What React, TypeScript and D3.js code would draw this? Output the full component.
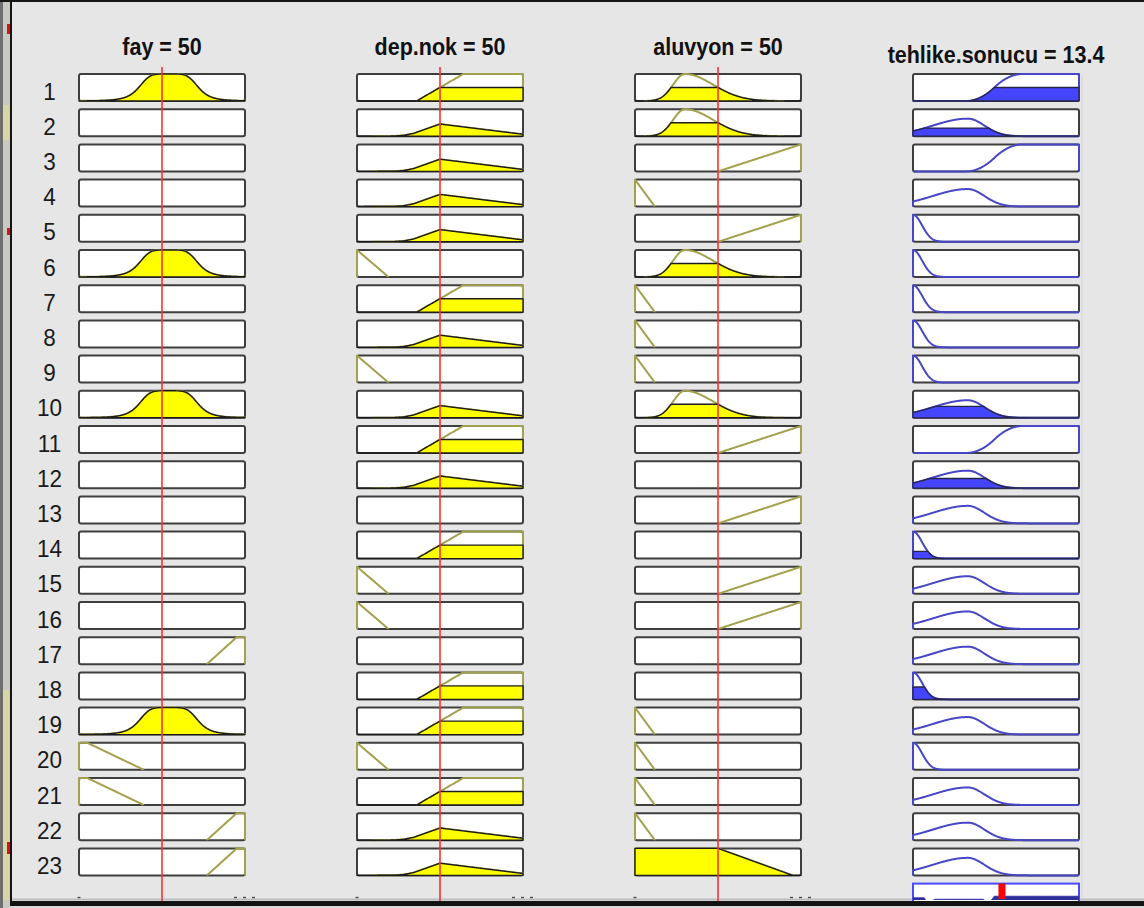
import React from "react";
import * as d3 from "d3";

type MF = { kind: string; p: number[] };

// ---- fuzzy variables ----
const inputNames = ["fay", "dep.nok", "aluvyon"];
const inputValues = [50, 50, 50];
const inputDomain: [number, number] = [0, 100];
const outputName = "tehlike.sonucu";
const outputValue = 13.4;
const outputDomain: [number, number] = [0, 25];

// membership functions, in variable units
const fayMFs: MF[] = [
  { kind: "trap", p: [-1, 0, 5, 39] },
  { kind: "gbell", p: [18, 2.5, 54] },
  { kind: "trap", p: [77, 95, 100, 101] },
];
const depMFs: MF[] = [
  { kind: "trap", p: [-1, 0, 0, 19] },
  { kind: "pwl", p: [0, 0, 22, 0.005, 28, 0.03, 34, 0.1, 50, 0.45, 100, 0.07] },
  { kind: "trap", p: [36, 64, 100, 101] },
];
const aluMFs: MF[] = [
  { kind: "trap", p: [-1, 0, 0, 12] },
  { kind: "gauss2", p: [7, 30, 17, 1] },
  { kind: "trap", p: [50, 100, 100, 101] },
  { kind: "trap", p: [-1, 0, 50, 95] },
];
const outMFs: MF[] = [
  { kind: "gauss2", p: [1, 0, 1.375, 1] },
  { kind: "gauss2", p: [5.25, 8.25, 2.5, 0.65] },
  { kind: "smf", p: [8, 16.5] },
];

// rule base: membership function number per rule (0 = term not used)
const fayRule = [2, 0, 0, 0, 0, 2, 0, 0, 0, 2, 0, 0, 0, 0, 0, 0, 3, 0, 2, 1, 1, 3, 3];
const depRule = [3, 2, 2, 2, 2, 1, 3, 2, 1, 2, 3, 2, 0, 3, 1, 1, 0, 3, 3, 1, 3, 2, 2];
const aluRule = [2, 2, 3, 1, 3, 2, 1, 1, 1, 2, 3, 0, 3, 0, 3, 3, 0, 0, 1, 1, 1, 1, 4];
const outRule = [3, 2, 3, 2, 1, 1, 1, 1, 1, 2, 3, 2, 2, 1, 2, 2, 2, 1, 2, 1, 2, 2, 2];
const ruleStrength = [0.5, 0.3, 0, 0, 0, 0, 0, 0, 0, 0.42, 0, 0.36, 0, 0.27, 0, 0, 0, 0.46, 0, 0, 0, 0, 0];

const inputMFs = [fayMFs, depMFs, aluMFs];
const inputRules = [fayRule, depRule, aluRule];

// ---- layout ----
const W = 1144;
const H = 908;
const COL_X = [79, 357, 635, 913];
const PW = 166;
const PH = 27;
const ROW0 = 74;
const ROW_STEP = 35.2;
const BOTTOM_Y = 901;
const AGG_BASE = 915;
const AGG_SPAN = 37.5;
const BG = "#e6e6e6";
const OLIVE = "#a2a14e";
const EDGE = "#1c1c1c";
const BLUE_LINE = "#4646c6";
const BLUE_FILL = "#4545ff";

const rowTop = d3.scaleLinear().domain([0, 1]).range([ROW0, ROW0 + ROW_STEP]);

function mu(mf: MF, x: number): number {
  const p = mf.p;
  switch (mf.kind) {
    case "gbell":
      return 1 / (1 + Math.pow(Math.abs((x - p[2]) / p[0]), 2 * p[1]));
    case "trap": {
      const [a, b, c, d] = p;
      const up = b > a ? (x - a) / (b - a) : x >= b ? 1 : 0;
      const dn = d > c ? (d - x) / (d - c) : x <= c ? 1 : 0;
      return Math.max(0, Math.min(up, 1, dn));
    }
    case "gauss2": {
      const [s1, c, s2, h] = p;
      const s = x < c ? s1 : s2;
      return h * Math.exp(-((x - c) ** 2) / (2 * s * s));
    }
    case "smf": {
      const [a, b] = p;
      if (x <= a) return 0;
      if (x >= b) return 1;
      const m = (a + b) / 2;
      if (x <= m) return 2 * ((x - a) / (b - a)) ** 2;
      return 1 - 2 * ((x - b) / (b - a)) ** 2;
    }
    case "pwl": {
      for (let i = 0; i + 3 < p.length; i += 2) {
        const xa = p[i], ya = p[i + 1], xb = p[i + 2], yb = p[i + 3];
        if (x >= xa && x <= xb) return ya + ((yb - ya) * (x - xa)) / (xb - xa);
      }
      return 0;
    }
  }
  return 0;
}

type Pt = [number, number];

// closed outline of a clipped membership function over the whole range
function clippedPoly(mf: MF, xs: number[], clip: number): Pt[] {
  const pts: Pt[] = xs.map((x) => [x, Math.min(mu(mf, x), clip)] as Pt);
  return [[xs[0], 0], ...pts, [xs[xs.length - 1], 0]];
}

// outline of a membership function over its support only
function supportPath(mf: MF, xs: number[]): Pt[] {
  const vals = xs.map((x) => mu(mf, x));
  const i0 = vals.findIndex((v) => v > 0.002);
  if (i0 < 0) return [];
  let i1 = vals.length - 1;
  while (vals[i1] <= 0.002) i1--;
  const pts: Pt[] = [[xs[i0], 0]];
  for (let i = i0; i <= i1; i++) pts.push([xs[i], vals[i]]);
  pts.push([xs[i1], 0]);
  return pts;
}

function InputCell({ col, row }: { col: number; row: number }) {
  const idx = inputRules[col][row];
  const x0 = COL_X[col];
  const top = rowTop(row);
  const x = d3.scaleLinear().domain(inputDomain).range([x0, x0 + PW]);
  const y = d3.scaleLinear().domain([0, 1]).range([top + PH, top]);
  const line = d3
    .line<Pt>()
    .x((d) => x(d[0]))
    .y((d) => y(d[1]));
  const xs = d3.range(inputDomain[0], inputDomain[1] + 1e-6, 0.25);
  let body = null;
  if (idx > 0) {
    const mf = inputMFs[col][idx - 1];
    const level = mu(mf, inputValues[col]);
    body = (
      <g>
        <path d={line(supportPath(mf, xs)) || ""} fill="none" stroke={OLIVE} strokeWidth={2} strokeLinejoin="round" />
        {level > 0.001 && (
          <path
            d={(line(clippedPoly(mf, xs, level)) || "") + "Z"}
            fill="#ffff00"
            stroke={EDGE}
            strokeWidth={1.4}
            strokeLinejoin="round"
          />
        )}
      </g>
    );
  }
  return (
    <g>
      <rect x={x0} y={top} width={PW} height={PH} rx={2} fill="#ffffff" stroke="#3e3e3e" strokeWidth={2} />
      {body}
    </g>
  );
}

function OutputCell({ row }: { row: number }) {
  const x0 = COL_X[3];
  const top = rowTop(row);
  const x = d3.scaleLinear().domain(outputDomain).range([x0, x0 + PW]);
  const y = d3.scaleLinear().domain([0, 1]).range([top + PH, top]);
  const line = d3
    .line<Pt>()
    .x((d) => x(d[0]))
    .y((d) => y(d[1]));
  const xs = d3.range(outputDomain[0], outputDomain[1] + 1e-6, 0.0625);
  const mf = outMFs[outRule[row] - 1];
  const s = ruleStrength[row];
  const curve: Pt[] = [[xs[0], 0], ...xs.map((v) => [v, mu(mf, v)] as Pt), [xs[xs.length - 1], 0]];
  return (
    <g>
      <rect x={x0} y={top} width={PW} height={PH} rx={2} fill="#ffffff" stroke="#3e3e3e" strokeWidth={2} />
      <path d={line(curve) || ""} fill="none" stroke={BLUE_LINE} strokeWidth={2} strokeLinejoin="round" />
      {s > 0 && (
        <path
          d={(line(clippedPoly(mf, xs, s)) || "") + "Z"}
          fill={BLUE_FILL}
          stroke="#26264a"
          strokeWidth={1.3}
          strokeLinejoin="round"
        />
      )}
    </g>
  );
}

// aggregated output: max over rules of the clipped consequents
function Aggregate() {
  const x0 = COL_X[3];
  const top = rowTop(outRule.length);
  const x = d3.scaleLinear().domain(outputDomain).range([x0, x0 + PW]);
  const y = d3.scaleLinear().domain([0, 1]).range([AGG_BASE, AGG_BASE - AGG_SPAN]);
  const xs = d3.range(outputDomain[0], outputDomain[1] + 1e-6, 0.0625);
  const agg: Pt[] = xs.map((v) => {
    let m = 0;
    outRule.forEach((o, r) => {
      m = Math.max(m, Math.min(mu(outMFs[o - 1], v), ruleStrength[r]));
    });
    return [v, m] as Pt;
  });
  const area = d3
    .area<Pt>()
    .x((d) => x(d[0]))
    .y0(AGG_BASE)
    .y1((d) => y(d[1]));
  const xm = x(outputValue);
  return (
    <g>
      <defs>
        <clipPath id="agg-clip">
          <rect x={x0} y={top} width={PW} height={900 - top} />
        </clipPath>
      </defs>
      <rect x={x0} y={top} width={PW} height={BOTTOM_Y + 1 - top} fill="#ffffff" stroke="#4a4aff" strokeWidth={2} />
      <path d={area(agg) || ""} fill="#2e2e9c" stroke="#2e2e9c" strokeWidth={1} clipPath="url(#agg-clip)" />
      <rect x={xm - 3.5} y={top} width={7} height={899 - top} fill="#ff0000" />
    </g>
  );
}

export default function App() {
  const rows = d3.range(outRule.length);
  const titles = [
    ...inputNames.map((n, i) => `${n} = ${inputValues[i]}`),
    `${outputName} = ${outputValue}`,
  ];
  const titleY = [55, 55, 55, 63];
  const redTop = 67;
  return (
    <svg
      width={W}
      height={H}
      viewBox={`0 0 ${W} ${H}`}
      style={{ position: "absolute", left: 0, top: 0, display: "block" }}
      fontFamily="'Liberation Sans', Arial, Helvetica, sans-serif"
    >
      <rect x={0} y={0} width={W} height={H} fill={BG} />

      {/* window frame on the left */}
      <rect x={0} y={0} width={3} height={H} fill="#6e6e6e" />
      <rect x={3} y={0} width={7} height={H} fill="#c9c9c2" />
      <rect x={3} y={105} width={6} height={35} fill="#d8d6a6" />
      <rect x={3} y={690} width={6} height={210} fill="#d8d6a6" />
      <rect x={7} y={24} width={3} height={10} fill="#e01010" />
      <rect x={7} y={228} width={3} height={7} fill="#e01010" />
      <rect x={7} y={842} width={3} height={12} fill="#e01010" />
      <rect x={10} y={0} width={2} height={H} fill="#151515" />
      <rect x={0} y={0} width={W} height={2} fill="#151515" />
      <line x1={1082} x2={1082} y1={76} y2={898} stroke="#d6d6d6" strokeWidth={1} />

      {/* titles */}
      {titles.map((t, i) => (
        <text
          key={t}
          transform={`translate(${COL_X[i] + PW / 2},${titleY[i]}) scale(0.915,1.04)`}
          textAnchor="middle"
          fontSize={23.5}
          fontWeight="bold"
          fill="#111"
        >
          {t}
        </text>
      ))}

      {/* rule numbers */}
      {rows.map((r) => (
        <text
          key={r}
          transform={`translate(49.5,${rowTop(r) + PH - 1.5}) scale(1,1.06)`}
          textAnchor="middle"
          fontSize={22.5}
          fill="#1a1a1a"
        >
          {r + 1}
        </text>
      ))}

      {/* rule cells */}
      {rows.map((r) => (
        <g key={r}>
          {inputNames.map((_, c) => (
            <InputCell key={c} col={c} row={r} />
          ))}
          <OutputCell row={r} />
        </g>
      ))}

      {/* tops of the range labels under the input columns */}
      {inputNames.map((_, c) => (
        <g key={c} fill="#505050">
          <rect x={COL_X[c] - 1.5} y={896.8} width={3} height={1.6} />
          {[-11, -2, 7].map((dx) => (
            <rect key={dx} x={COL_X[c] + PW + dx} y={896.8} width={3} height={1.6} />
          ))}
        </g>
      ))}
      <rect x={12} y={898.5} width={W - 12} height={2} fill="#bdbdbd" />

      <Aggregate />

      {/* input value indicators */}
      {inputNames.map((_, c) => {
        const x = d3.scaleLinear().domain(inputDomain).range([COL_X[c], COL_X[c] + PW]);
        return (
          <line
            key={c}
            x1={x(inputValues[c])}
            x2={x(inputValues[c])}
            y1={redTop}
            y2={BOTTOM_Y}
            stroke="#ff3030"
            strokeWidth={1.6}
          />
        );
      })}

      <rect x={10} y={BOTTOM_Y} width={W - 10} height={5} fill="#131313" />
      <rect x={10} y={BOTTOM_Y + 5} width={W - 10} height={2} fill="#d9d9d9" />
    </svg>
  );
}
